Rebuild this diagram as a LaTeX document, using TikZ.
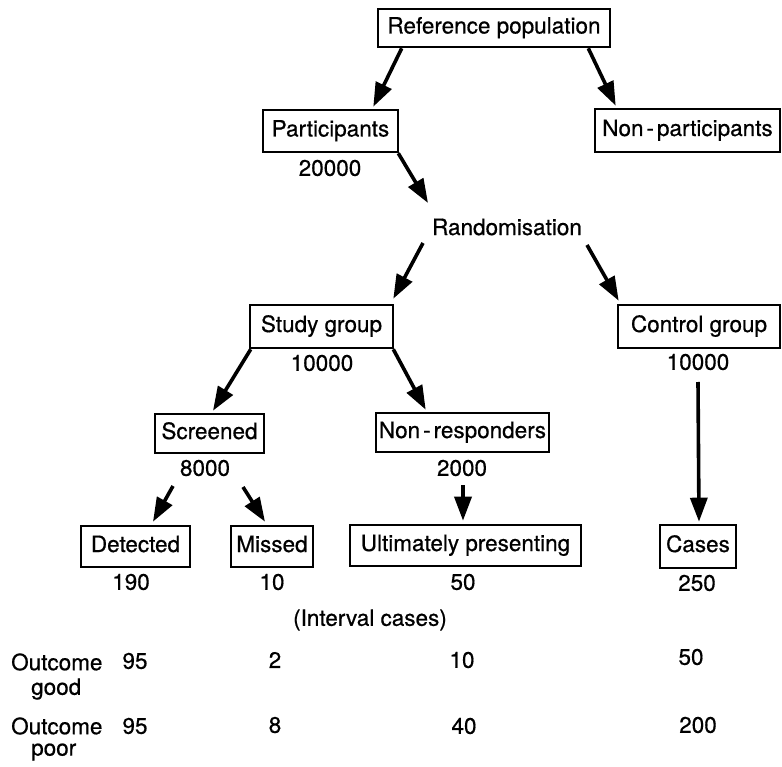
\documentclass[tikz,border=0pt]{standalone}
\usepackage{fontspec}
\setmainfont{TeX Gyre Heros}[FakeBold=0.6]
\usetikzlibrary{arrows.meta,calc}
\begin{document}
\begin{tikzpicture}[x=1pt,y=-1pt,
  txt/.style={inner sep=0pt, font=\fontsize{22.5}{26}\selectfont},
  box/.style={txt, draw, line width=2.6pt, text height=16pt, text depth=5pt, minimum height=40pt},
  arr/.style={line width=3.6pt, -{Triangle[length=24pt,width=17pt]}}]
\useasboundingbox (0,0) rectangle (782,767);
% boxes
\node[box, minimum width=232pt, minimum height=38pt] (ref) at (494,28) {Reference population};
\node[box, minimum width=135pt, minimum height=42pt] (part) at (330.5,131) {Participants};
\node[box, minimum width=185pt, minimum height=43pt] (nonpart) at (687.5,130.5) {Non\kern3pt-\kern3pt participants};
\node[box, minimum width=143pt, minimum height=43pt] (study) at (321.5,326.5) {Study group};
\node[box, minimum width=162pt, minimum height=43pt] (control) at (699,326.5) {Control group};
\node[box, minimum width=109pt, minimum height=39pt] (screened) at (209.5,433.5) {Screened};
\node[box, minimum width=173pt, minimum height=39pt] (nonresp) at (462.5,432.5) {Non\kern3pt-\kern3pt responders};
\node[box, minimum width=109pt, minimum height=41pt] (detected) at (135.5,546.5) {Detected};
\node[box, minimum width=82pt, minimum height=41pt] (missed) at (272,546.5) {Missed};
\node[box, minimum width=231pt, minimum height=41pt] (ultim) at (465.5,545.5) {Ultimately presenting};
\node[box, minimum width=76pt, minimum height=43pt] (cases) at (698,546.5) {Cases};
% labels
\node[txt] (n20000) at (330,168) {20000};
\node[txt] (rand) at (507,227) {Randomisation};
\node[txt] (s10000) at (322,363) {10000};
\node[txt] (c10000) at (698,362) {10000};
\node[txt] (n8000) at (205,468) {8000};
\node[txt] (n2000) at (462,468) {2000};
\node[txt] (n190) at (131,582) {190};
\node[txt] (n10) at (272,582) {10};
\node[txt] (n50) at (463,582) {50};
\node[txt] (n250) at (697,583) {250};
\node[txt] (interval) at (370,620) {(Interval cases)};
\node[txt, anchor=west] (og) at (11,662) {Outcome};
\node[txt, anchor=west] (good) at (31,689) {good};
\node[txt, anchor=west] (op) at (11,726) {Outcome};
\node[txt, anchor=west] (poor) at (31,752) {poor};
\node[txt] (g1) at (135,661) {95};
\node[txt] (g2) at (275,660) {2};
\node[txt] (g3) at (462,660) {10};
\node[txt] (g4) at (691,657) {50};
\node[txt] (p1) at (135,726) {95};
\node[txt] (p2) at (275,725) {8};
\node[txt] (p3) at (464,726) {40};
\node[txt] (p4) at (698,725) {200};
% arrows
\draw[arr] ($(ref.south west)+(25,0)$) -- ($(part.north east)+(-26,-2)$);
\draw[arr] ($(ref.south east)+(-23,0)$) -- ($(nonpart.north west)+(22,-2)$);
\draw[arr] ($(part.south east)+(-1,0)$) -- ($(rand.center)+(-79,-24)$);
\draw[arr] ($(rand.center)+(-84,16)$) -- ($(study.north east)+(-1,-5)$);
\draw[arr] ($(rand.center)+(80,18)$) -- ($(control.north west)+(2,-3)$);
\draw[arr] ($(study.south west)+(2,0)$) -- ($(screened.north)+(3.5,-2)$);
\draw[arr] ($(study.south east)+(-1,0)$) -- ($(nonresp.north west)+(51,-2)$);
\draw[arr] ($(n8000.center)+(-32,18)$) -- ($(detected.north)+(17.5,-3)$);
\draw[arr] ($(n8000.center)+(38,19)$) -- ($(missed.north)+(-7,-3)$);
\draw[arr] ($(n2000.center)+(1,17)$) -- ($(ultim.north)+(-2.5,-3)$);
\draw[arr] ($(c10000.center)+(0,20)$) -- ($(cases.north)+(1,-2)$);
\end{tikzpicture}
\end{document}
